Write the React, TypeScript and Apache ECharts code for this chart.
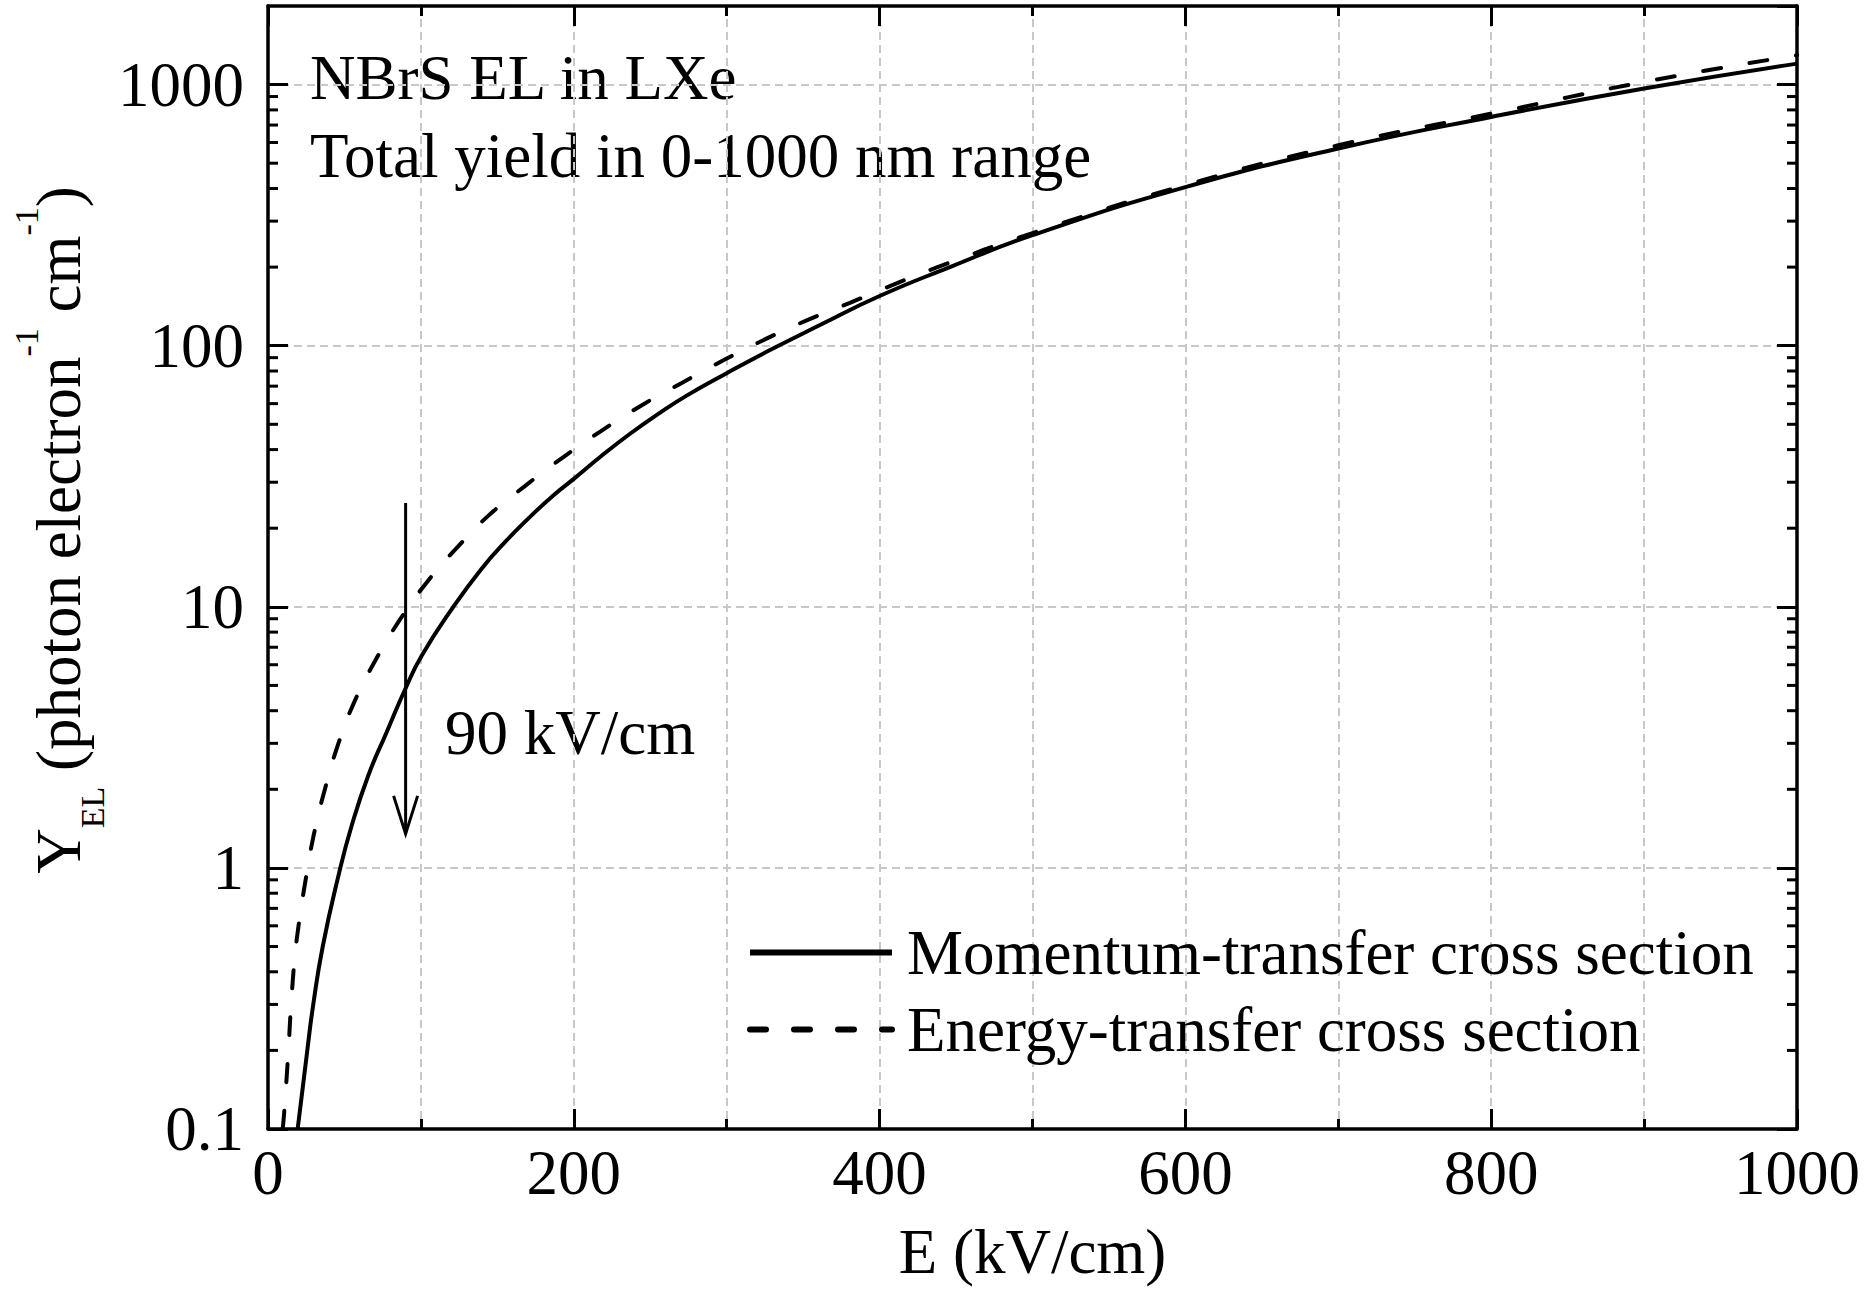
import React, { useEffect, useRef } from "react";
import * as echarts from "echarts";

const FONT = '"Liberation Serif", "Times New Roman", serif';

// Momentum-transfer cross section (solid)
const solidE = [19.4, 25.7, 29.6, 35.8, 46, 54.7, 65.6, 77.6, 90.3, 100.5, 121.2, 139.7, 155, 172.4, 186.6, 200, 218, 236.8, 255, 273.8, 300, 328, 361, 400, 446, 500, 600, 700, 800, 900, 1000];
const solidY = [0.1, 0.2, 0.3, 0.5, 0.93, 1.45, 2.26, 3.31, 4.92, 6.5, 10, 14, 17.7, 22.4, 26.7, 30.9, 37.8, 46, 54.7, 64.4, 78.5, 96, 120, 155, 200, 265, 405, 569, 752, 966, 1203];

// Energy-transfer cross section (dashed)
const dashedE = [9.6, 10.5, 12.6, 16.6, 19.8, 24.2, 29.6, 37.3, 46, 56.9, 70, 85.2, 103.8, 123, 144, 168, 192.5, 217.8, 243.7, 270.6, 297.8, 325, 352.3, 380.6, 408.7, 437, 500, 600, 700, 800, 900, 1000];
const dashedY = [0.1, 0.114, 0.171, 0.397, 0.59, 0.87, 1.31, 2.01, 2.99, 4.38, 6.2, 8.73, 12.4, 16.7, 22.3, 29, 37.2, 47.1, 58.8, 72, 87.9, 105.7, 125, 146, 171, 199, 270, 412, 586, 774, 1024, 1295];

// Log minor tick values
const minorTickValues = [0.2, 0.3, 0.4, 0.5, 0.6, 0.7, 0.8, 0.9, 2, 3, 4, 5, 6, 7, 8, 9, 20, 30, 40, 50, 60, 70, 80, 90, 200, 300, 400, 500, 600, 700, 800, 900];

// Arrow at 90 kV/cm: [E, from Y, to Y]
const arrowE = 90;
const arrowFromY = 25;
const arrowToY = 1.35;

const seriesNames = ["Momentum-transfer cross section", "Energy-transfer cross section"];
const xMin = 0;
const xMax = 1000;
const yMin = 0.1;
const yMax = 2000;

const gridLine = { color: "#c8c8c8", width: 2, type: [8, 5] as number[] };
const axisLineStyle = { color: "#000", width: 3.5 };
const tickStyle = { color: "#000", width: 3 };
const txt = { fontFamily: FONT, fontSize: 63, color: "#000", lineHeight: 63 };

function logLabel(v: number): string {
  const l = Math.log10(v);
  if (Math.abs(l - Math.round(l)) > 1e-6) return "";
  const r = Math.pow(10, Math.round(l));
  return r < 1 ? r.toFixed(1) : String(Math.round(r));
}

export default function App() {
  const ref = useRef<HTMLDivElement>(null);
  useEffect(() => {
    document.body.style.margin = "0";
    if (!ref.current) return;
    const chart = echarts.init(ref.current, undefined, { renderer: "svg" });
    const option: any = {
      animation: false,
      backgroundColor: "#fff",
      grid: { left: 268, top: 6, width: 1529, height: 1123, containLabel: false, outerBoundsMode: "none" },
      xAxis: [
        {
          type: "value", min: xMin, max: xMax, interval: 200, position: "bottom",
          name: "E (kV/cm)", nameLocation: "middle", nameGap: 91, nameTextStyle: { ...txt },
          axisLine: { show: true, onZero: false, lineStyle: axisLineStyle },
          axisTick: { show: true, inside: true, length: 20, lineStyle: tickStyle },
          minorTick: { show: true, splitNumber: 2, length: 10, lineStyle: tickStyle },
          axisLabel: { margin: 12, ...txt, formatter: (v: number) => String(v) },
          splitLine: { show: true, lineStyle: gridLine },
          minorSplitLine: { show: true, lineStyle: gridLine },
        },
        {
          type: "value", min: xMin, max: xMax, interval: 200, position: "top",
          axisLine: { show: true, onZero: false, lineStyle: axisLineStyle },
          axisTick: { show: true, inside: true, length: 20, lineStyle: tickStyle },
          minorTick: { show: true, splitNumber: 2, length: 10, lineStyle: tickStyle },
          axisLabel: { show: false },
          splitLine: { show: false },
        },
      ],
      yAxis: [
        {
          type: "log", logBase: 10, min: yMin, max: yMax, position: "left",
          axisLine: { show: true, onZero: false, lineStyle: axisLineStyle },
          axisTick: { show: true, inside: true, length: 20, lineStyle: tickStyle },
          axisLabel: { margin: 24, ...txt, formatter: logLabel, showMaxLabel: false },
          splitLine: { show: true, lineStyle: gridLine },
        },
        {
          type: "log", logBase: 10, min: yMin, max: yMax, position: "right",
          axisLine: { show: true, onZero: false, lineStyle: axisLineStyle },
          axisTick: { show: true, inside: true, length: 20, lineStyle: tickStyle },
          axisLabel: { show: false },
          splitLine: { show: false },
        },
      ],
      legend: {
        orient: "vertical", left: 742, top: 916, itemWidth: 142, itemHeight: 20, itemGap: 14,
        selectedMode: false,
        textStyle: { ...txt, padding: [0, 0, 0, 10] },
        data: [
          { name: seriesNames[0], lineStyle: { width: 6 }, itemStyle: { opacity: 0, color: "rgba(0,0,0,0)", borderWidth: 0 } },
          { name: seriesNames[1], lineStyle: { width: 6, type: [16, 28], cap: "round" }, itemStyle: { opacity: 0, color: "rgba(0,0,0,0)", borderWidth: 0 } },
        ],
      },
      graphic: [
        { type: "text", x: 310, y: 77.5, style: { text: "NBrS EL in LXe", fontSize: 63, fontFamily: FONT, fill: "#000", align: "left", verticalAlign: "middle" } },
        { type: "text", x: 310, y: 156, style: { text: "Total yield in 0-1000 nm range", fontSize: 63, fontFamily: FONT, fill: "#000", align: "left", verticalAlign: "middle" } },
        { type: "text", x: 445, y: 733, style: { text: "90 kV/cm", fontSize: 63, fontFamily: FONT, fill: "#000", align: "left", verticalAlign: "middle" } },
        {
          type: "text", x: 59, y: 530, rotation: Math.PI / 2,
          style: {
            text: "{m|Y}{s|EL}{m| (photon electron}{u|-1}{m| cm}{u|-1}{m|)}",
            align: "center", verticalAlign: "middle", fill: "#000",
            rich: {
              m: { fontSize: 63, fontFamily: FONT, lineHeight: 100, fill: "#000" },
              s: { fontSize: 34, fontFamily: FONT, lineHeight: 37, verticalAlign: "bottom", fill: "#000" },
              u: { fontSize: 34, fontFamily: FONT, lineHeight: 39, verticalAlign: "top", fill: "#000" },
            },
          },
        },
      ],
      series: [
        {
          name: seriesNames[0], type: "line", xAxisIndex: 0, yAxisIndex: 0,
          data: solidE.map((e, i) => [e, solidY[i]]),
          smooth: 0.5, symbol: "none", showSymbol: false, clip: true,
          lineStyle: { color: "#000", width: 4 }, itemStyle: { color: "#000" }, z: 5,
        },
        {
          name: seriesNames[1], type: "line", xAxisIndex: 0, yAxisIndex: 0,
          data: dashedE.map((e, i) => [e, dashedY[i]]),
          smooth: 0.5, symbol: "none", showSymbol: false, clip: true,
          lineStyle: { color: "#000", width: 4, type: [18, 29], cap: "round" }, itemStyle: { color: "#000" }, z: 5,
        },
        {
          type: "custom", xAxisIndex: 0, yAxisIndex: 0, silent: true, z: 6,
          data: minorTickValues.map((v) => [xMin, v]),
          renderItem: (params: any, api: any) => {
            const p = api.coord([api.value(0), api.value(1)]);
            const cs = params.coordSys;
            const y = p[1];
            return {
              type: "group",
              children: [
                { type: "line", shape: { x1: cs.x, y1: y, x2: cs.x + 10, y2: y }, style: { stroke: "#000", lineWidth: 3 } },
                { type: "line", shape: { x1: cs.x + cs.width - 10, y1: y, x2: cs.x + cs.width, y2: y }, style: { stroke: "#000", lineWidth: 3 } },
              ],
            };
          },
        },
        {
          type: "custom", xAxisIndex: 0, yAxisIndex: 0, silent: true, z: 7,
          data: [[arrowE, arrowFromY, arrowToY]],
          renderItem: (params: any, api: any) => {
            const top = api.coord([api.value(0), api.value(1)]);
            const tip = api.coord([api.value(0), api.value(2)]);
            return {
              type: "group",
              children: [
                { type: "line", shape: { x1: top[0], y1: top[1], x2: tip[0], y2: tip[1] }, style: { stroke: "#000", lineWidth: 3 } },
                {
                  type: "polyline",
                  shape: { points: [[tip[0] - 12, tip[1] - 38], [tip[0], tip[1]], [tip[0] + 12, tip[1] - 38]] },
                  style: { stroke: "#000", lineWidth: 3, fill: "none" },
                },
              ],
            };
          },
        },
      ],
    };
    chart.setOption(option);
    return () => chart.dispose();
  }, []);
  return (
    <div
      ref={ref}
      style={{ position: "absolute", left: 0, top: 0, width: 1869, height: 1298, background: "#fff" }}
    />
  );
}
